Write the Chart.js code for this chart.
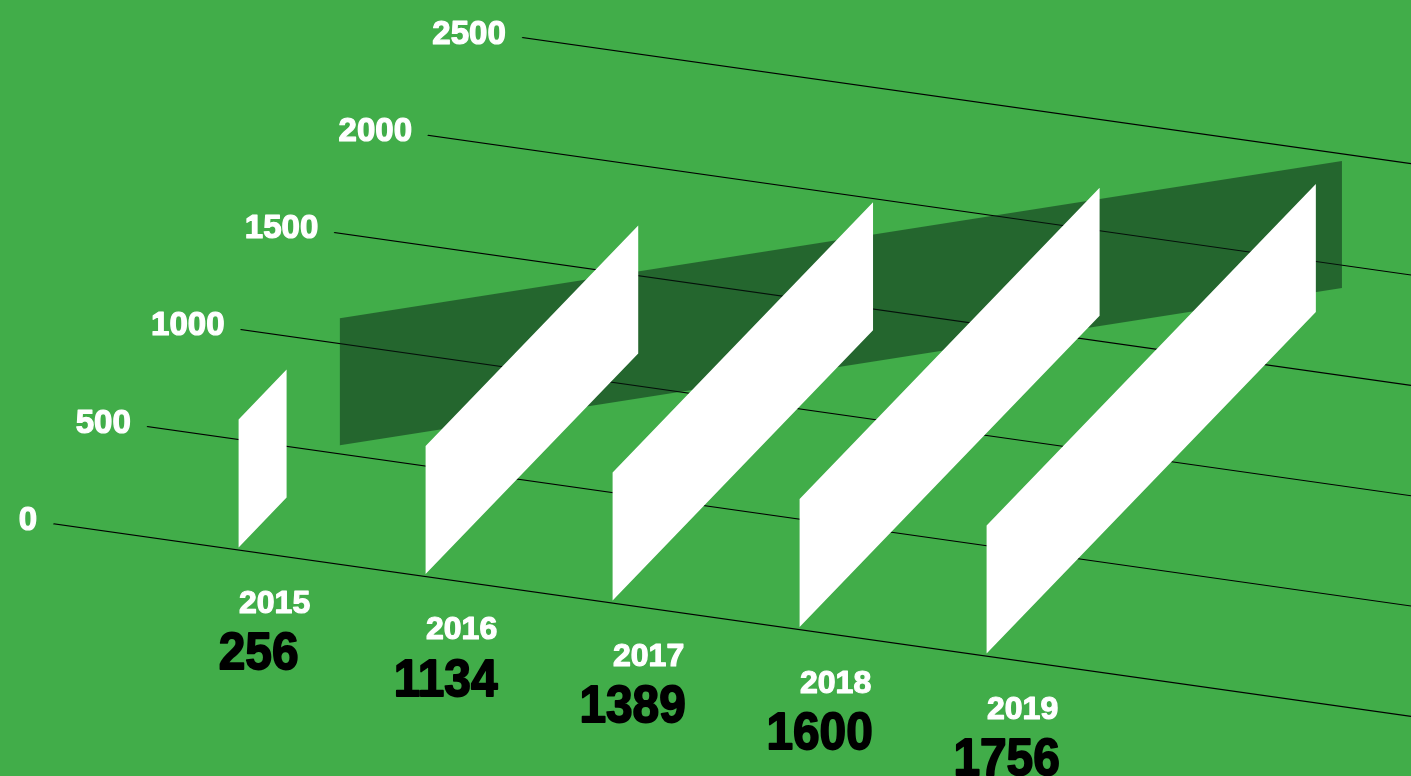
<!DOCTYPE html>
<html>
<head>
<meta charset="utf-8">
<title>Totals 2015-2019</title>
<script src="https://cdn.jsdelivr.net/npm/chart.js@4.4.1/dist/chart.umd.min.js"></script>
<style>
  html, body { margin: 0; padding: 0; background: #41ad49; }
  canvas { display: block; }
</style>
</head>
<body>
<canvas id="totalsChart" width="1411" height="776"></canvas>
<script>
// chart data
const years = ["2015", "2016", "2017", "2018", "2019"];
const totals = [256, 1134, 1389, 1600, 1756];
const trendEnds = [540, 1895]; // dark band, at 2015 and at 2019
const yTicks = [0, 500, 1000, 1500, 2000, 2500];

// how the flat chart is laid onto the slanted picture
const origin = { x: 238.6, y: 550.4 };     // 2015, value 0
const stepCat = { x: 187, y: 26.55 };      // one year along the floor
const stepVal = { x: 0.1875, y: -0.1945 }; // one unit of value
const firstCat = -0.9925; // grid lines start here
const lastCat = 6.6;
const barLift = 3, barHeight = 128, bandHeight = 127;

const FONT = "'Liberation Sans', Arial, sans-serif";

// a screen offset of p pixels straight up, as (category, value)
function upBy(p) {
  const det = stepCat.x * stepVal.y - stepVal.x * stepCat.y;
  return { dc: (p * stepVal.x) / det, dv: (-p * stepCat.x) / det };
}

// a band that runs from (c0, v0) to (c1, v1) and stands up `height` px
function ribbon(c0, v0, c1, v1, lift, height) {
  const a = upBy(lift), b = upBy(lift + height);
  return [
    { x: c0 + a.dc, y: v0 + a.dv },
    { x: c1 + a.dc, y: v1 + a.dv },
    { x: c1 + b.dc, y: v1 + b.dv },
    { x: c0 + b.dc, y: v0 + b.dv },
    { x: c0 + a.dc, y: v0 + a.dv },
  ];
}

const shapeStyle = {
  fill: "shape",
  borderWidth: 0,
  borderColor: "rgba(0,0,0,0)",
  pointRadius: 0,
  tension: 0,
  clip: false,
};

const barSets = totals.map((v, i) => ({
  ...shapeStyle,
  label: years[i],
  data: ribbon(i, 0, i, v, barLift, barHeight),
  backgroundColor: "#ffffff",
  order: 0,
}));

const bandSet = {
  ...shapeStyle,
  label: "trend",
  data: ribbon(0, trendEnds[0], years.length - 1, trendEnds[1], 0, bandHeight),
  backgroundColor: "rgba(7, 31, 19, 0.5)",
  order: 1,
};

let M = null;
function toScreen(px, py) {
  return { x: M[0] * px + M[2] * py + M[4], y: M[1] * px + M[3] * py + M[5] };
}

// filled text with a thin outline of the same colour, to get a heavier weight
function heavyText(ctx, text, x, y, color, width) {
  ctx.fillStyle = color;
  ctx.strokeStyle = color;
  ctx.lineWidth = width;
  ctx.lineJoin = "round";
  ctx.strokeText(text, x, y);
  ctx.fillText(text, x, y);
}

const slantPlugin = {
  id: "slant",
  beforeDraw(chart) {
    const xs = chart.scales.x, ys = chart.scales.y;
    const fx0 = xs.getPixelForValue(0), fy0 = ys.getPixelForValue(0);
    const kx = xs.getPixelForValue(1) - fx0;
    const ky = ys.getPixelForValue(1) - fy0;
    const a = stepCat.x / kx, b = stepCat.y / kx;
    const c = stepVal.x / ky, d = stepVal.y / ky;
    M = [a, b, c, d, origin.x - a * fx0 - c * fy0, origin.y - b * fx0 - d * fy0];
    chart.ctx.save();
    chart.ctx.transform(...M);
  },
  afterDatasetsDraw(chart) {
    chart.ctx.restore();
  },
  afterDraw(chart) {
    const ctx = chart.ctx;
    const xs = chart.scales.x, ys = chart.scales.y;
    ctx.save();
    ctx.textBaseline = "alphabetic";

    // value ticks at the start of each grid line
    ctx.textAlign = "right";
    ctx.font = "bold 33px " + FONT;
    yTicks.forEach((v) => {
      const p = toScreen(xs.getPixelForValue(firstCat), ys.getPixelForValue(v));
      heavyText(ctx, String(v), p.x - 16, p.y - 6 + 0.358 * 33, "#ffffff", 1.2);
    });

    // year and total under each bar
    ctx.textAlign = "center";
    years.forEach((yr, i) => {
      const p = toScreen(xs.getPixelForValue(i), ys.getPixelForValue(0));
      ctx.font = "bold 32px " + FONT;
      heavyText(ctx, yr, p.x + 36, p.y + 51 + 0.358 * 32, "#ffffff", 1.2);

      ctx.font = "bold 52px " + FONT;
      ctx.save();
      ctx.translate(p.x + 20, p.y + 100 + 0.358 * 52);
      ctx.scale(0.92, 1);
      heavyText(ctx, String(totals[i]), 0, 0, "#000000", 1.8);
      ctx.restore();
    });
    ctx.restore();
  },
};

new Chart(document.getElementById("totalsChart"), {
  type: "line",
  data: { datasets: [...barSets, bandSet] },
  options: {
    responsive: false,
    animation: false,
    events: [],
    layout: { padding: { left: 20, right: 20, top: 110, bottom: 110 } },
    plugins: {
      legend: { display: false },
      tooltip: { enabled: false },
    },
    scales: {
      x: { type: "linear", display: false, min: firstCat, max: lastCat },
      y: {
        type: "linear",
        min: 0,
        max: 2500,
        afterBuildTicks: (scale) => {
          scale.ticks = yTicks.map((v) => ({ value: v }));
        },
        ticks: { display: false },
        border: { display: false },
        grid: {
          color: "#000000",
          drawTicks: false,
          // keep the slanted lines about 1.1px thick on screen
          lineWidth: (c) => {
            const perUnit = (c.scale.bottom - c.scale.top) / 2500;
            return (1.1 * perUnit) / 0.2189;
          },
        },
      },
    },
  },
  plugins: [slantPlugin],
});
</script>
</body>
</html>
